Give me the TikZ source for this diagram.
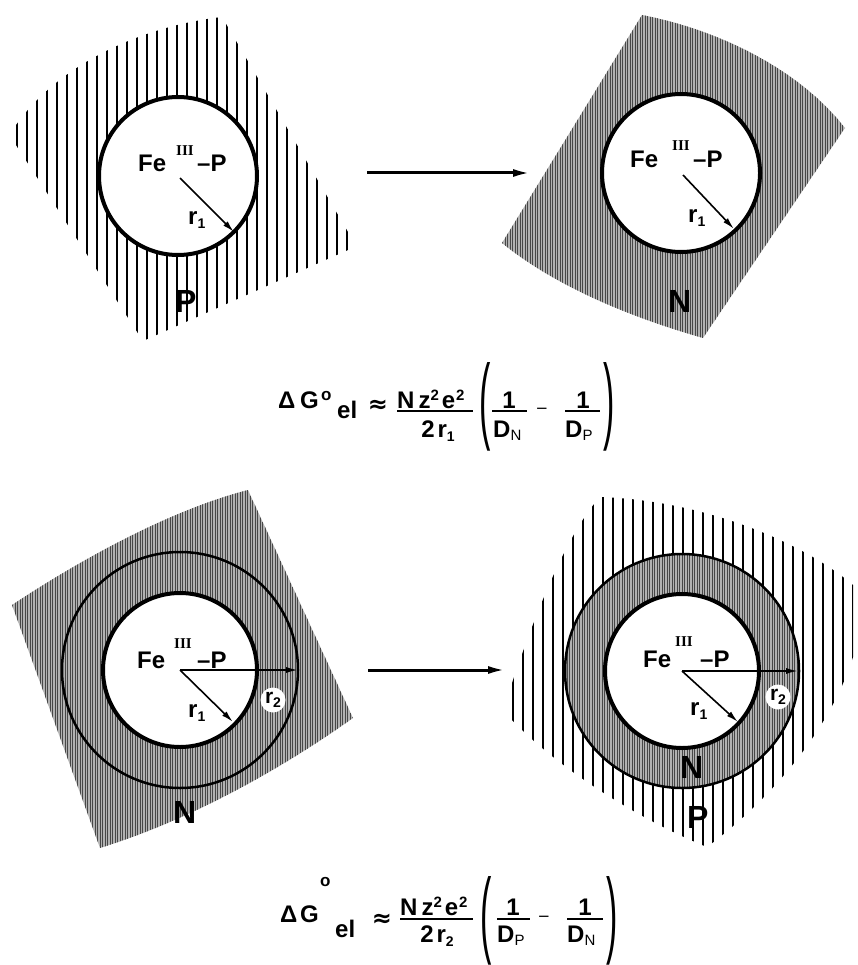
\documentclass[tikz,border=0pt]{standalone}
\usepackage{fontspec}
\usepackage{graphicx}
\setmainfont{Liberation Sans}
\newfontfamily\serifb{Liberation Serif}
\newfontfamily\dejavu{DejaVu Sans}
\usetikzlibrary{arrows.meta}
\newcommand\lsub[1]{\raisebox{-4pt}{\fontsize{14}{14}\selectfont #1}}
\newcommand\dsub[1]{\raisebox{-3pt}{\fontsize{15}{15}\selectfont\mdseries #1}}
\newcommand\usup[1]{\raisebox{8pt}{\fontsize{15}{15}\selectfont #1}}
\newcommand\bigparen[1]{\scalebox{1.0}[2.8]{\fontsize{34}{34}\selectfont #1}}
\begin{document}
\begin{tikzpicture}[x=1pt,y=-1pt,
  lab/.style={font=\fontsize{24}{24}\selectfont\bfseries, inner sep=0pt, anchor=base west},
  bigl/.style={font=\fontsize{32}{32}\selectfont\bfseries, inner sep=0pt, anchor=base west},
  roman/.style={font=\fontsize{15}{15}\selectfont\serifb\bfseries, inner sep=0pt, anchor=base west},
  fl/.style={font=\fontsize{24}{24}\selectfont\bfseries, inner sep=0pt, anchor=base west},
  flc/.style={font=\fontsize{24}{24}\selectfont\bfseries, inner sep=0pt, anchor=base},
  ring/.style={font=\fontsize{17}{17}\selectfont\bfseries, inner sep=0pt, anchor=base west},
  op/.style={font=\fontsize{24}{24}\selectfont\dejavu\bfseries, inner sep=0pt, anchor=center},
  minus/.style={font=\fontsize{15}{15}\selectfont\dejavu, inner sep=0pt, anchor=center},
  paren/.style={inner sep=0pt, anchor=center},
  fbar/.style={line width=1.8pt},
  rad/.style={line width=1.6pt, -{Latex[length=12pt,width=6pt]}},
  inner/.style={line width=4pt},
  outer/.style={line width=2.5pt},
  mainarrow/.style={line width=3pt, -{Latex[length=18pt,width=8pt]}},
  sparse/.style={line width=1.8pt},
  sparsethin/.style={line width=1.5pt},
  dense/.style={line width=1pt, black!72},
  densefill/.style={fill=black!30},
  rdisk/.style={circle, fill=white, inner sep=0pt, minimum size=25pt,
     font=\fontsize{21}{21}\selectfont\bfseries}
]
\useasboundingbox (0,0) rectangle (857,965);

% ---------- Panel 1 (top left): sparse hatch P ----------
\begin{scope}
  \clip (14,128) .. controls (60,60) and (150,25) .. (222,17) -- (348,232) -- (348,250)
        -- (143,341) -- (14,142) -- cycle;
  \foreach \x in {17,27,...,347} \draw[sparse] (\x,0) -- (\x,360);
\end{scope}
\coordinate (c1) at (178,176);
\fill[white] (c1) circle (79);
\draw[inner] (c1) circle (79);
\node[lab] (fe1) at (138,172) {Fe};
\node[roman] (iii1) at (176,156) {III};
\node[lab] (p1) at (197,172) {–P};
\coordinate (s1) at (180,178);
\coordinate (e1) at (234,232);
\draw[rad] (s1) -- (e1);
\node[lab] (r1a) at (188,225) {r\lsub{1}};
\node[bigl] (P1) at (175,312) {P};

% ---------- Panel 2 (top right): dense hatch N ----------
\def\regtwo{(642,15) .. controls (720,30) and (800,70) .. (845,128) -- (703,338)
        .. controls (640,320) and (560,290) .. (502,243) -- cycle}
\fill[densefill] \regtwo;
\begin{scope}
  \clip \regtwo;
  \foreach \x in {500,502.5,...,850} \draw[dense] (\x,0) -- (\x,345);
\end{scope}
\coordinate (c2) at (681,173);
\fill[white] (c2) circle (79);
\draw[inner] (c2) circle (79);
\node[lab] (fe2) at (630,168) {Fe};
\node[roman] (iii2) at (672,151) {III};
\node[lab] (p2) at (693,168) {–P};
\coordinate (s2) at (683,175);
\coordinate (e2) at (734,229);
\draw[rad] (s2) -- (e2);
\node[lab] (r1b) at (688,223) {r\lsub{1}};
\node[bigl] (N2) at (668,312) {N};

% ---------- top arrow ----------
\coordinate (a1s) at (367,173);
\coordinate (a1e) at (531,173);
\draw[mainarrow] (a1s) -- (a1e);

% ---------- formula 1 ----------
\node[fl] (d1) at (278,408) {Δ};
\node[fl] (g1) at (300,408) {G};
\node[ring] (o1) at (321,400) {o};
\node[fl] (el1) at (337,418) {el};
\node[op] (ap1) at (378,406) {≈};
\node[fl] (num1) at (397,408) {N\hspace{4pt}z\usup{2}\hspace{3pt}e\hspace{1pt}\usup{2}};
\draw[fbar] (397,411) -- (473,411);
\node[flc] (den1) at (438,437) {2\hspace{3pt}r\lsub{1}};
\node[paren] (lp1) at (485,407) {\bigparen{(}};
\node[flc] (one1) at (509,408) {1};
\draw[fbar] (492,411) -- (527,411);
\node[fl] (dn1) at (493,437) {D\dsub{N}};
\node[minus] (m1) at (542,411) {−};
\node[flc] (one2) at (583,408) {1};
\draw[fbar] (565,411) -- (600,411);
\node[fl] (dp1) at (565,437) {D\dsub{P}};
\node[paren] (rp1) at (609,407) {\bigparen{)}};

% ---------- Panel 3 (bottom left): dense hatch N with two circles ----------
\def\regthree{(12,605) .. controls (80,560) and (170,510) .. (248,490) -- (353,718)
        .. controls (280,770) and (190,820) .. (100,848) -- cycle}
\fill[densefill] \regthree;
\begin{scope}
  \clip \regthree;
  \foreach \x in {10,12.5,...,356} \draw[dense] (\x,480) -- (\x,855);
\end{scope}
\coordinate (c3) at (180,670);
\draw[outer] (c3) circle (118);
\fill[white] (c3) circle (77);
\draw[inner] (c3) circle (77);
\node[lab] (fe3) at (137,668) {Fe};
\node[roman] (iii3) at (174,648) {III};
\node[lab] (p3) at (197,668) {–P};
\coordinate (e3a) at (298,670);
\coordinate (e3b) at (233,722);
\draw[rad] (c3) -- (e3a);
\draw[rad] (c3) -- (e3b);
\node[rdisk] (r2a) at (273,700) {r\lsub{2}};
\node[lab] (r1c) at (188,717) {r\lsub{1}};
\node[bigl] (N3) at (173,823) {N};

% ---------- bottom arrow ----------
\coordinate (a2s) at (368,670);
\coordinate (a2e) at (506,670);
\draw[mainarrow] (a2s) -- (a2e);

% ---------- Panel 4 (bottom right): sparse P outside, dense N ring ----------
\begin{scope}
  \clip (512,683) .. controls (540,600) and (570,530) .. (600,497)
        .. controls (700,500) and (800,540) .. (853,585) -- (853,657)
        .. controls (830,730) and (770,800) .. (707,847)
        .. controls (640,820) and (560,770) .. (512,720) -- cycle;
  \foreach \x in {513,523,...,853} \draw[sparsethin] (\x,490) -- (\x,850);
\end{scope}
\coordinate (c4) at (682,671);
\fill[densefill] (c4) circle (117);
\begin{scope}
  \clip (c4) circle (117);
  \foreach \x in {562,564.5,...,802} \draw[dense] (\x,550) -- (\x,792);
\end{scope}
\draw[outer] (c4) circle (117);
\fill[white] (c4) circle (77);
\draw[inner] (c4) circle (77);
\node[lab] (fe4) at (643,667) {Fe};
\node[roman] (iii4) at (675,646) {III};
\node[lab] (p4) at (700,667) {–P};
\coordinate (e4a) at (798,671);
\coordinate (e4b) at (738,722);
\draw[rad] (c4) -- (e4a);
\draw[rad] (c4) -- (e4b);
\node[rdisk] (r2b) at (778,697) {r\lsub{2}};
\node[lab] (r1d) at (690,715) {r\lsub{1}};
\node[bigl] (N4) at (680,778) {N};
\node[bigl] (P4) at (687,828) {P};

% ---------- formula 2 ----------
\node[fl] (d2) at (280,922) {Δ};
\node[fl] (g2) at (300,922) {G};
\node[ring] (o2) at (320,886) {o};
\node[fl] (el2) at (335,937) {el};
\node[op] (ap2) at (382,920) {≈};
\node[fl] (num2) at (400,915) {N\hspace{4pt}z\usup{2}\hspace{3pt}e\hspace{1pt}\usup{2}};
\draw[fbar] (400,919) -- (473,919);
\node[flc] (den2) at (437,942) {2\hspace{3pt}r\lsub{2}};
\node[paren] (lp2) at (486,921) {\bigparen{(}};
\node[flc] (one3) at (513,915) {1};
\draw[fbar] (497,919) -- (530,919);
\node[fl] (dp2) at (497,942) {D\dsub{P}};
\node[minus] (m2) at (544,919) {−};
\node[flc] (one4) at (585,915) {1};
\draw[fbar] (567,919) -- (603,919);
\node[fl] (dn2) at (567,942) {D\dsub{N}};
\node[paren] (rp2) at (612,921) {\bigparen{)}};
\end{tikzpicture}
\end{document}
